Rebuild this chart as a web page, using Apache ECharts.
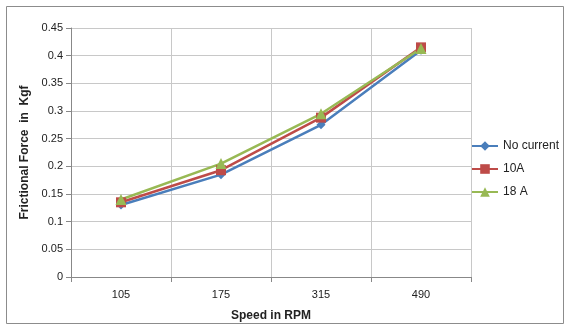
<!DOCTYPE html>
<html>
<head>
<meta charset="utf-8">
<script src="https://cdn.jsdelivr.net/npm/echarts@6/dist/echarts.min.js"></script>
<style>
  html, body { margin: 0; padding: 0; background: #fff; }
  #chart { width: 566px; height: 330px; }
</style>
</head>
<body>
<div id="chart"></div>
<script>
var speeds = ['105', '175', '315', '490'];
var noCurrent = [0.13, 0.185, 0.275, 0.41];
var amp10 = [0.135, 0.193, 0.288, 0.415];
var amp18 = [0.14, 0.205, 0.295, 0.413];

var chart = echarts.init(document.getElementById('chart'));

var font = 'Liberation Sans, Arial, sans-serif';

function line(name, data, color, symbol, size) {
    return {
        name: name,
        type: 'line',
        data: data,
        symbol: symbol,
        symbolSize: size,
        lineStyle: { color: color, width: 2.5 },
        itemStyle: { color: color },
        z: 3
    };
}

var option = {
    animation: false,
    backgroundColor: '#fff',
    graphic: [{
        type: 'rect',
        shape: { x: 6.5, y: 6.5, width: 557, height: 317 },
        style: { fill: 'none', stroke: '#8c8c8c', lineWidth: 1 }
    }],
    grid: { left: 71, right: 95, top: 28, bottom: 53 },
    legend: {
        orient: 'vertical',
        left: 466,
        top: 135,
        itemGap: 11,
        itemWidth: 26,
        itemHeight: 12,
        textStyle: { fontFamily: font, fontSize: 12, color: '#222' },
        data: ['No current', '10A', '18 A']
    },
    xAxis: {
        type: 'category',
        data: speeds,
        boundaryGap: true,
        name: 'Speed in RPM',
        nameLocation: 'middle',
        nameGap: 33,
        nameTextStyle: { fontFamily: font, fontSize: 12, fontWeight: 'bold', color: '#222' },
        axisLine: { lineStyle: { color: '#888' } },
        axisTick: { show: true, length: 5, lineStyle: { color: '#888' } },
        axisLabel: { fontFamily: font, fontSize: 11, color: '#222', margin: 12 },
        splitLine: { show: true, lineStyle: { color: '#c8c8c8' } }
    },
    yAxis: {
        type: 'value',
        min: 0,
        max: 0.45,
        interval: 0.05,
        name: 'Frictional Force  in  Kgf',
        nameLocation: 'middle',
        nameGap: 40,
        nameTextStyle: { fontFamily: font, fontSize: 12, fontWeight: 'bold', color: '#222' },
        axisLine: { show: true, lineStyle: { color: '#888' } },
        axisTick: { show: true, length: 5, lineStyle: { color: '#888' } },
        axisLabel: {
            fontFamily: font, fontSize: 11, color: '#222', margin: 8,
            formatter: function (v) { return String(+v.toFixed(2)); }
        },
        splitLine: { show: true, lineStyle: { color: '#c8c8c8' } }
    },
    series: [
        line('No current', noCurrent, '#4A7EBB', 'diamond', 9),
        line('10A', amp10, '#BE4B48', 'rect', 10),
        line('18 A', amp18, '#98B954', 'triangle', 11)
    ]
};

chart.setOption(option);
</script>
</body>
</html>
